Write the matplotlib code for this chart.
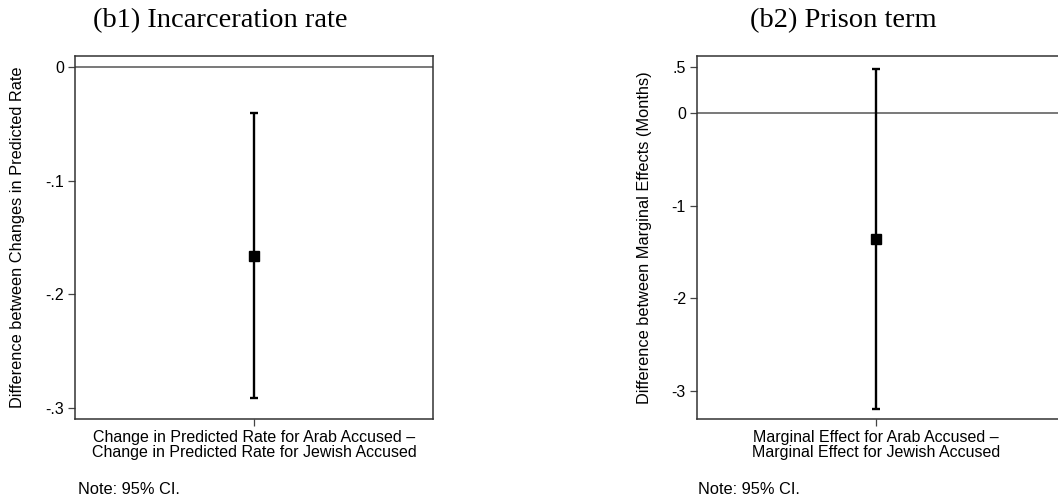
import matplotlib
matplotlib.use("Agg")
import matplotlib.pyplot as plt

# veriler
panels = ["(b1) Incarceration rate", "(b2) Prison term"]
xlabels = ["Change in Predicted Rate for Arab Accused \u2013\nChange in Predicted Rate for Jewish Accused",
           "Marginal Effect for Arab Accused \u2013\nMarginal Effect for Jewish Accused"]
ylabels = ["Difference between Changes in Predicted Rate",
           "Difference between Marginal Effects (Months)"]
estimates = [-0.166, -1.36]
ci_low = [-0.291, -3.196]
ci_high = [-0.041, 0.483]
yticks = [[0, -0.1, -0.2, -0.3], [0.5, 0, -1, -2, -3]]
yticklabels = [["0", "-.1", "-.2", "-.3"], [".5", "0", "-1", "-2", "-3"]]
ylims = [(-0.3094, 0.0094), (-3.307, 0.619)]
xlims = [(-1, 1), (-1, 1.04)]

W, H = 1058, 501
fig = plt.figure(figsize=(W / 100, H / 100), dpi=100)
sans = ["Liberation Sans", "DejaVu Sans"]
serif = ["Liberation Serif", "DejaVu Serif"]

# piksel cinsinden eksen konumlari: sol, sag, ust, alt
boxes = [(75, 433, 56, 419), (697, 1062, 56, 419)]
title_x = [220, 843]
note_x = [78, 698]
ylabel_x = [18, 645]

for i in range(2):
    l, r, t, b = boxes[i]
    ax = fig.add_axes([l / W, 1 - b / H, (r - l) / W, (b - t) / H])
    ax.axhline(0, color="#555555", lw=1.1, zorder=1)
    yerr = [[estimates[i] - ci_low[i]], [ci_high[i] - estimates[i]]]
    ax.errorbar([0], [estimates[i]], yerr=yerr, fmt="s", color="black",
                ms=7.3, elinewidth=1.7, capsize=3, capthick=1.7, zorder=3)
    ax.set_xlim(*xlims[i])
    ax.set_ylim(*ylims[i])
    ax.set_xticks([0])
    ax.set_xticklabels([xlabels[i]], fontsize=11.5, family=sans, linespacing=1.0)
    ax.set_yticks(yticks[i])
    ax.set_yticklabels(yticklabels[i], fontsize=11.5, family=sans)
    ax.tick_params(axis="both", length=5, width=0.9, color="#444444", pad=3)
    for s in ax.spines.values():
        s.set_color("#333333")
        s.set_linewidth(1.1)
    if i == 1:
        ax.spines["right"].set_visible(False)
    fig.text(ylabel_x[i] / W, 1 - (t + b) / 2 / H, ylabels[i], rotation=90,
             ha="center", va="center", fontsize=11.8, family=sans)
    fig.text(title_x[i] / W, 1 - 21 / H, panels[i], ha="center", va="center",
             fontsize=20.5, family=serif)
    fig.text(note_x[i] / W, 1 - 489 / H, "Note: 95% CI.", ha="left", va="center",
             fontsize=11.8, family=sans)

fig.savefig("out.png", dpi=100)
